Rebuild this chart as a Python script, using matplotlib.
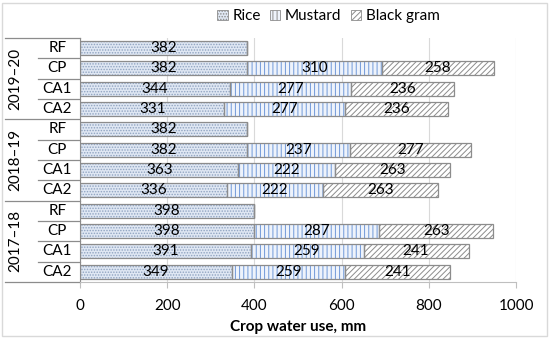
import numpy as np
import matplotlib.pyplot as plt
from matplotlib.patches import Patch, Rectangle
import matplotlib.transforms as mtransforms

plt.rcParams['font.family'] = ['Lato', 'DejaVu Sans']
plt.rcParams['hatch.linewidth'] = 0.7

years = ["2019\u201320", "2018\u201319", "2017\u201318"]
systems = ["RF", "CP", "CA1", "CA2"]

# rows top to bottom: 2019-20 RF..CA2, 2018-19 RF..CA2, 2017-18 RF..CA2
rice = [382, 382, 344, 331, 382, 382, 363, 336, 398, 398, 391, 349]
mustard = [0, 310, 277, 277, 0, 237, 222, 222, 0, 287, 259, 259]
black_gram = [0, 258, 236, 236, 0, 277, 263, 263, 0, 263, 241, 241]

crops = ["Rice", "Mustard", "Black gram"]
faces = ["#dfe7f3", "#eef3fb", "white"]
hatches = ["......", "||||", "//////"]
hcolors = ["#8fa3c0", "#6f98d8", "#8c8c8c"]

fig = plt.figure(figsize=(5.5, 3.38), dpi=100)
ax = fig.add_axes([0.1455, 0.166, 0.793, 0.722])

n = len(rice)
y = np.arange(n)[::-1]
h = 0.68
left = np.zeros(n)
for vals, fc, ht, hc in zip([rice, mustard, black_gram], faces, hatches, hcolors):
    vals = np.array(vals)
    ax.barh(y, vals, left=left, height=h, color=fc, hatch=ht, edgecolor=hc, linewidth=0, zorder=2)
    ax.barh(y, vals, left=left, height=h, fill=False, edgecolor="#8c8c8c", linewidth=0.9, zorder=3)
    for yi, l, v in zip(y, left, vals):
        if v > 0:
            ax.text(l + v / 2, yi, str(v), ha="center", va="center", fontsize=11, zorder=4)
    left = left + vals

ax.set_xlim(0, 1000)
ax.set_ylim(-0.5, n - 0.5)
ax.set_xticks(range(0, 1001, 200))
ax.tick_params(axis="x", labelsize=11, length=4, color="#bfbfbf", pad=8)
ax.set_yticks([])
ax.grid(axis="x", color="#d9d9d9", linewidth=0.8, zorder=0)
for s in ["top", "right"]:
    ax.spines[s].set_visible(False)
ax.spines["left"].set_color("#8c8c8c")
ax.spines["bottom"].set_color("#bfbfbf")
ax.set_xlabel("Crop water use, mm", fontsize=11, fontweight="bold", labelpad=5)

trans = mtransforms.blended_transform_factory(ax.transAxes, ax.transData)
for i in range(n):
    ax.text(-0.052, y[i], systems[i % 4], transform=trans, ha="center", va="center", fontsize=11)
for g, yr in enumerate(years):
    ax.text(-0.148, y[g * 4] - 1.5, yr, transform=trans, ha="center", va="center",
            rotation=90, fontsize=11)
# separators in the label area
for k in range(n + 1):
    yy = k - 0.5
    x0 = -0.172 if k % 4 == 0 else -0.096
    ax.plot([x0, 0], [yy, yy], transform=trans, color="#8c8c8c", linewidth=0.9, clip_on=False)

handles = [Patch(facecolor=fc, hatch=ht, edgecolor="#8c8c8c", linewidth=0.6) for fc, ht in zip(faces, hatches)]
fig.legend(handles, crops, loc="center", bbox_to_anchor=(0.597, 0.952), ncol=3, frameon=False,
           fontsize=11, handlelength=0.7, handleheight=0.7, handletextpad=0.3, columnspacing=0.6)

fig.patches.append(Rectangle((0.004, 0.006), 0.99, 0.986, transform=fig.transFigure,
                             fill=False, edgecolor="#d9d9d9", linewidth=1))

fig.savefig("out.png", dpi=100)
